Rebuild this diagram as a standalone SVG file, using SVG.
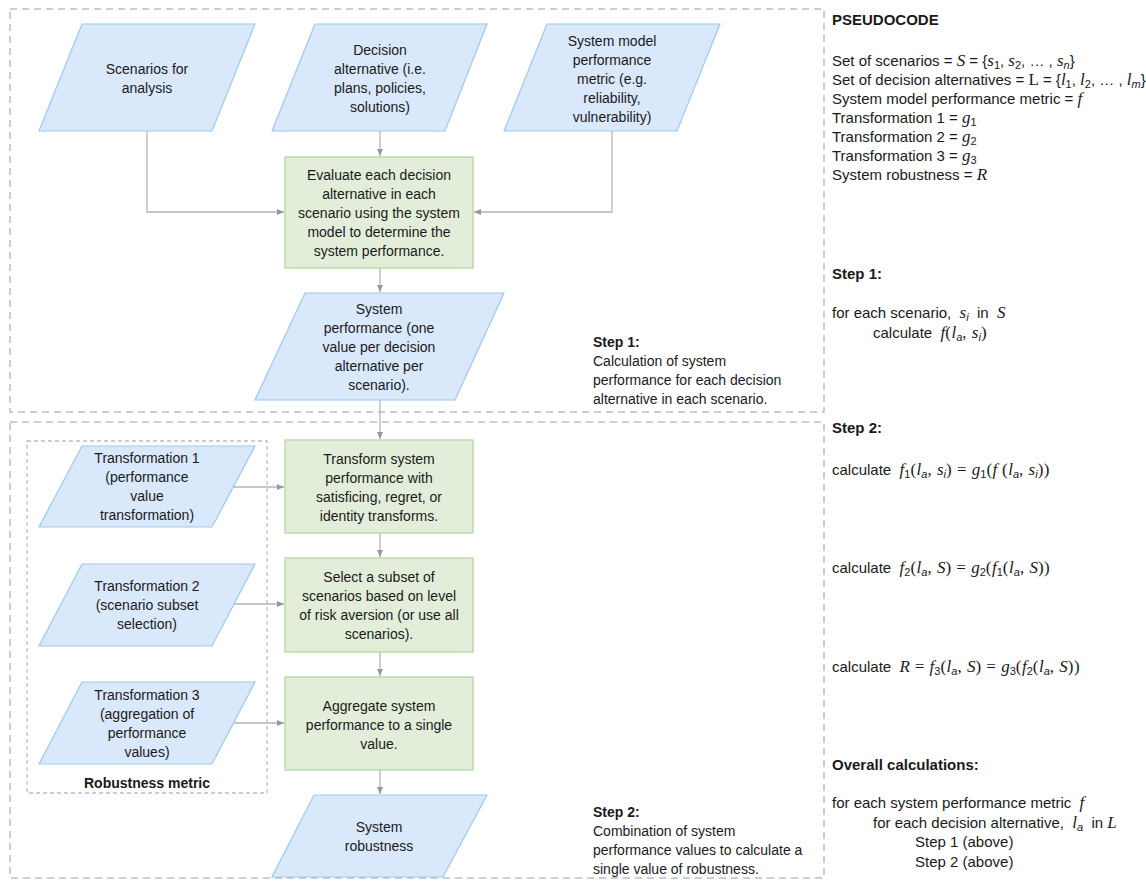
<svg xmlns="http://www.w3.org/2000/svg" width="1146" height="881" viewBox="0 0 1146 881">
<style>
text{font-family:"Liberation Sans",Arial,sans-serif;font-size:14px;fill:#1a1a1a}
.c{text-anchor:middle}
.b{font-weight:bold}
.p{font-size:15px}
.m{font-family:"Liberation Serif","Times New Roman",serif;font-style:italic;font-size:17px}
.r{font-family:"Liberation Serif","Times New Roman",serif;font-size:17px}
.q{font-family:"Liberation Serif","Times New Roman",serif;font-size:17px;letter-spacing:0.5px}
.sub{font-size:11px;baseline-shift:-3px}
.io{fill:#dae8fb;stroke:#9cc9ef;stroke-width:1.2}
.pr{fill:#e2eed9;stroke:#b3d2a1;stroke-width:1.2}
.dash{fill:none;stroke:#bdbdbd;stroke-width:1.5;stroke-dasharray:7 5}
.dash2{fill:none;stroke:#bdbdbd;stroke-width:1.3;stroke-dasharray:4 3}
.e{fill:none;stroke:#b5b5b5;stroke-width:1.3;marker-end:url(#ah)}
</style>
<defs>
<marker id="ah" markerWidth="8" markerHeight="8" refX="7" refY="4" orient="auto" markerUnits="userSpaceOnUse">
<path d="M0,1 L7,4 L0,7 Z" fill="#999"/>
</marker>
</defs>
<rect width="1146" height="881" fill="#fff"/>
<g id="frames">
<rect class="dash" x="10" y="9" width="814" height="403"/>
<rect class="dash" x="10" y="422" width="814" height="456"/>
<rect class="dash2" x="27" y="441" width="240" height="352"/>
</g>
<g id="connectors">
<path class="e" d="M147,131 V212 H284"/>
<path class="e" d="M380,131 V156"/>
<path class="e" d="M612,131 V212 H474"/>
<path class="e" d="M380,268 V292"/>
<path class="e" d="M380,400 V439"/>
<path class="e" d="M380,533 V557"/>
<path class="e" d="M380,652 V676"/>
<path class="e" d="M380,770 V794"/>
<path class="e" d="M233,487 H284"/>
<path class="e" d="M233,604 H284"/>
<path class="e" d="M233,723 H284"/>
</g>
<g id="n-scenarios">
<polygon class="io" points="82,24 255,24 212,131 39,131"/>
<text class="c" x="147" y="74">Scenarios for</text>
<text class="c" x="147" y="93">analysis</text>
</g>
<g id="n-decision">
<polygon class="io" points="315,24 487,24 445,131 272,131"/>
<text class="c" x="380" y="55">Decision</text>
<text class="c" x="380" y="74">alternative (i.e.</text>
<text class="c" x="380" y="93">plans, policies,</text>
<text class="c" x="380" y="112">solutions)</text>
</g>
<g id="n-metric">
<polygon class="io" points="547,24 720,24 677,131 504,131"/>
<text class="c" x="612" y="46">System model</text>
<text class="c" x="612" y="65">performance</text>
<text class="c" x="612" y="84">metric (e.g.</text>
<text class="c" x="612" y="103">reliability,</text>
<text class="c" x="612" y="122">vulnerability)</text>
</g>
<g id="n-evaluate">
<rect class="pr" x="285" y="157" width="188" height="111"/>
<text class="c" x="379" y="180">Evaluate each decision</text>
<text class="c" x="379" y="199">alternative in each</text>
<text class="c" x="379" y="218">scenario using the system</text>
<text class="c" x="379" y="237">model to determine the</text>
<text class="c" x="379" y="256">system performance.</text>
</g>
<g id="n-sysperf">
<polygon class="io" points="305,293 504,293 455,400 255,400"/>
<text class="c" x="379" y="314">System</text>
<text class="c" x="379" y="333">performance (one</text>
<text class="c" x="379" y="352">value per decision</text>
<text class="c" x="379" y="371">alternative per</text>
<text class="c" x="379" y="390">scenario).</text>
</g>
<g id="step1-label">
<text class="b" x="593" y="347">Step 1:</text>
<text x="593" y="366">Calculation of system</text>
<text x="593" y="385">performance for each decision</text>
<text x="593" y="404">alternative in each scenario.</text>
</g>
<g id="n-transform">
<rect class="pr" x="285" y="440" width="188" height="93"/>
<text class="c" x="379" y="464">Transform system</text>
<text class="c" x="379" y="483">performance with</text>
<text class="c" x="379" y="502">satisficing, regret, or</text>
<text class="c" x="379" y="521">identity transforms.</text>
</g>
<g id="n-select">
<rect class="pr" x="285" y="558" width="188" height="94"/>
<text class="c" x="379" y="582">Select a subset of</text>
<text class="c" x="379" y="601">scenarios based on level</text>
<text class="c" x="379" y="620">of risk aversion (or use all</text>
<text class="c" x="379" y="639">scenarios).</text>
</g>
<g id="n-aggregate">
<rect class="pr" x="285" y="677" width="188" height="93"/>
<text class="c" x="379" y="711">Aggregate system</text>
<text class="c" x="379" y="730">performance to a single</text>
<text class="c" x="379" y="749">value.</text>
</g>
<g id="n-robustness">
<polygon class="io" points="314,795 487,795 443,877 272,877"/>
<text class="c" x="379" y="832">System</text>
<text class="c" x="379" y="851">robustness</text>
</g>
<g id="n-t1">
<polygon class="io" points="82,446 255,446 212,527 39,527"/>
<text class="c" x="147" y="463">Transformation 1</text>
<text class="c" x="147" y="482">(performance</text>
<text class="c" x="147" y="501">value</text>
<text class="c" x="147" y="520">transformation)</text>
</g>
<g id="n-t2">
<polygon class="io" points="82,564 255,564 212,646 39,646"/>
<text class="c" x="147" y="591">Transformation 2</text>
<text class="c" x="147" y="610">(scenario subset</text>
<text class="c" x="147" y="629">selection)</text>
</g>
<g id="n-t3">
<polygon class="io" points="82,682 255,682 212,764 39,764"/>
<text class="c" x="147" y="700">Transformation 3</text>
<text class="c" x="147" y="719">(aggregation of</text>
<text class="c" x="147" y="738">performance</text>
<text class="c" x="147" y="757">values)</text>
</g>
<g id="robustness-label">
<text class="c b" x="147" y="788">Robustness metric</text>
</g>
<g id="step2-label">
<text class="b" x="593" y="817">Step 2:</text>
<text x="593" y="836">Combination of system</text>
<text x="593" y="855">performance values to calculate a</text>
<text x="593" y="874">single value of robustness.</text>
</g>
<g id="pseudocode">
<text class="b p" x="832" y="25">PSEUDOCODE</text>
<text class="p" x="832" y="66">Set of scenarios = <tspan class="m">S</tspan> = {<tspan class="m">s</tspan><tspan class="sub">1</tspan>, <tspan class="m">s</tspan><tspan class="sub">2</tspan>, … , <tspan class="m">s</tspan><tspan class="sub" font-style="italic">n</tspan>}</text>
<text class="p" x="832" y="85">Set of decision alternatives = <tspan class="r">L</tspan> = {<tspan class="m">l</tspan><tspan class="sub">1</tspan>, <tspan class="m">l</tspan><tspan class="sub">2</tspan>, … , <tspan class="m">l</tspan><tspan class="sub" font-style="italic">m</tspan>}</text>
<text class="p" x="832" y="104">System model performance metric = <tspan class="m">f</tspan></text>
<text class="p" x="832" y="123">Transformation 1 = <tspan class="m">g</tspan><tspan class="sub">1</tspan></text>
<text class="p" x="832" y="142">Transformation 2 = <tspan class="m">g</tspan><tspan class="sub">2</tspan></text>
<text class="p" x="832" y="161">Transformation 3 = <tspan class="m">g</tspan><tspan class="sub">3</tspan></text>
<text class="p" x="832" y="180">System robustness = <tspan class="m">R</tspan></text>
<text class="b p" x="832" y="279">Step 1:</text>
<text class="p" x="832" y="318" xml:space="preserve">for each scenario,  <tspan class="m">s</tspan><tspan class="sub" font-style="italic">i</tspan>  in  <tspan class="m">S</tspan></text>
<text class="p" x="873" y="338" xml:space="preserve">calculate  <tspan class="m">f</tspan><tspan class="q">(</tspan><tspan class="m">l</tspan><tspan class="sub" font-style="italic">a</tspan><tspan class="q">, </tspan><tspan class="m">s</tspan><tspan class="sub" font-style="italic">i</tspan><tspan class="q">)</tspan></text>
<text class="b p" x="832" y="433">Step 2:</text>
<text class="p" x="832" y="475" xml:space="preserve">calculate  <tspan class="m">f</tspan><tspan class="sub">1</tspan><tspan class="q">(</tspan><tspan class="m">l</tspan><tspan class="sub" font-style="italic">a</tspan><tspan class="q">, </tspan><tspan class="m">s</tspan><tspan class="sub" font-style="italic">i</tspan><tspan class="q">) = </tspan><tspan class="m">g</tspan><tspan class="sub">1</tspan><tspan class="q">(</tspan><tspan class="m">f</tspan><tspan class="q"> (</tspan><tspan class="m">l</tspan><tspan class="sub" font-style="italic">a</tspan><tspan class="q">, </tspan><tspan class="m">s</tspan><tspan class="sub" font-style="italic">i</tspan><tspan class="q">))</tspan></text>
<text class="p" x="832" y="573" xml:space="preserve">calculate  <tspan class="m">f</tspan><tspan class="sub">2</tspan><tspan class="q">(</tspan><tspan class="m">l</tspan><tspan class="sub" font-style="italic">a</tspan><tspan class="q">, </tspan><tspan class="m">S</tspan><tspan class="q">) = </tspan><tspan class="m">g</tspan><tspan class="sub">2</tspan><tspan class="q">(</tspan><tspan class="m">f</tspan><tspan class="sub">1</tspan><tspan class="q">(</tspan><tspan class="m">l</tspan><tspan class="sub" font-style="italic">a</tspan><tspan class="q">, </tspan><tspan class="m">S</tspan><tspan class="q">))</tspan></text>
<text class="p" x="832" y="672" xml:space="preserve">calculate  <tspan class="m">R</tspan><tspan class="q"> = </tspan><tspan class="m">f</tspan><tspan class="sub">3</tspan><tspan class="q">(</tspan><tspan class="m">l</tspan><tspan class="sub" font-style="italic">a</tspan><tspan class="q">, </tspan><tspan class="m">S</tspan><tspan class="q">) = </tspan><tspan class="m">g</tspan><tspan class="sub">3</tspan><tspan class="q">(</tspan><tspan class="m">f</tspan><tspan class="sub">2</tspan><tspan class="q">(</tspan><tspan class="m">l</tspan><tspan class="sub" font-style="italic">a</tspan><tspan class="q">, </tspan><tspan class="m">S</tspan><tspan class="q">))</tspan></text>
<text class="b p" x="832" y="770">Overall calculations:</text>
<text class="p" x="832" y="808" xml:space="preserve">for each system performance metric  <tspan class="m">f</tspan></text>
<text class="p" x="873" y="828" xml:space="preserve">for each decision alternative,  <tspan class="m">l</tspan><tspan class="sub" font-style="italic">a</tspan>  in <tspan class="m">L</tspan></text>
<text class="p" x="915" y="847">Step 1 (above)</text>
<text class="p" x="915" y="867">Step 2 (above)</text>
</g>
</svg>
